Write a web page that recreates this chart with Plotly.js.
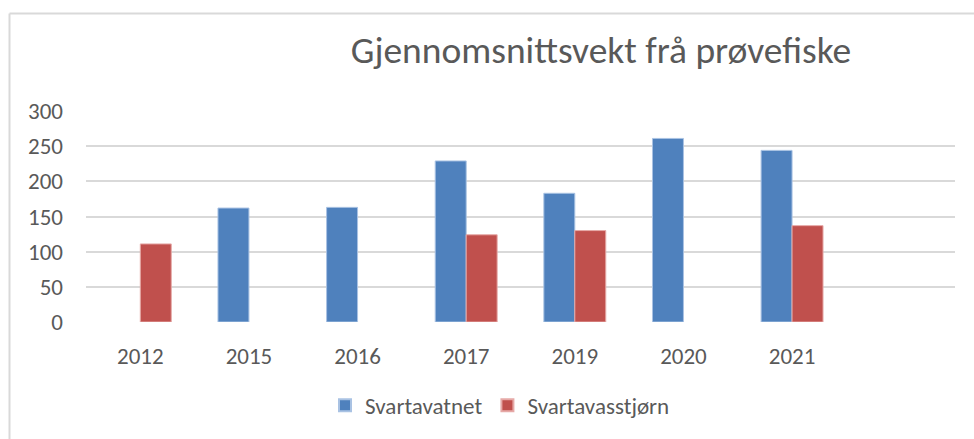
<!DOCTYPE html>
<html>
<head>
<meta charset="utf-8">
<script src="https://cdn.plot.ly/plotly-3.0.1.min.js"></script>
<style>
html,body{margin:0;padding:0;background:#fff;}
#chart{width:974px;height:439px;}
</style>
</head>
<body>
<div id="chart"></div>
<script>
const categories = ["2012", "2015", "2016", "2017", "2019", "2020", "2021"];
const svartavatnet = [null, 162, 163, 229, 183, 261, 244];
const svartavasstjorn = [111, null, null, 124, 130, null, 137];
const seriesNames = ["Svartavatnet", "Svartavasstjørn"];
const yTicks = [0, 50, 100, 150, 200, 250, 300];

const W = 974, H = 439;
const mL = 86, mR = 19, mT = 111, mB = 115;
const pw = W - mL - mR, ph = H - mT - mB;
const px2x = p => (p - mL) / pw;
const py2y = p => (H - mB - p) / ph;

const font = "Calibri, Carlito, 'Open Sans', 'Noto Sans', sans-serif";
const grey = "#595959";

const data = [
  {type: "bar", name: seriesNames[0], x: categories, y: svartavatnet,
   marker: {color: "#4f81bd", line: {color: "#a9c2e3", width: 1}}, hoverinfo: "skip"},
  {type: "bar", name: seriesNames[1], x: categories, y: svartavasstjorn,
   marker: {color: "#c0504d", line: {color: "#e6a9a7", width: 1}}, hoverinfo: "skip"}
];

const layout = {
  width: W, height: H,
  margin: {l: mL, r: mR, t: mT, b: mB, pad: 0},
  paper_bgcolor: "#fff", plot_bgcolor: "#fff",
  barmode: "group", bargap: 0.43, bargroupgap: 0,
  font: {family: font, color: grey, size: 23},
  title: {text: "Gjennomsnittsvekt frå prøvefiske", font: {family: font, size: 37.5, color: grey},
          x: px2x(601), xref: "paper", xanchor: "center", y: 1 - 50 / H, yref: "container", yanchor: "middle"},
  xaxis: {type: "category", range: [-0.5, 7.5], showgrid: false, zeroline: false, showline: false,
          ticks: "", tickfont: {family: font, size: 23, color: grey}, ticklabelstandoff: 18, fixedrange: true},
  yaxis: {range: [0, 300], tickvals: yTicks, showgrid: true, gridcolor: "#d9d9d9", gridwidth: 2,
          zeroline: false, showline: false, ticks: "", tickfont: {family: font, size: 23, color: grey},
          ticklabelstandoff: 22, fixedrange: true},
  showlegend: true,
  legend: {orientation: "h", x: px2x(500), xanchor: "center", y: py2y(408), yanchor: "middle",
           font: {family: font, size: 23, color: grey}, itemwidth: 30, traceorder: "normal",
           itemsizing: "constant", bgcolor: "rgba(0,0,0,0)"},
  shapes: [
    {type: "line", xref: "paper", yref: "paper", x0: px2x(9.5), x1: px2x(9.5), y0: py2y(12.5), y1: py2y(445),
     line: {color: "#d9d9d9", width: 2}},
    {type: "line", xref: "paper", yref: "paper", x0: px2x(9.5), x1: px2x(980), y0: py2y(12.5), y1: py2y(12.5),
     line: {color: "#d9d9d9", width: 2}}
  ]
};

Plotly.newPlot("chart", data, layout, {displayModeBar: false, staticPlot: true});
</script>
</body>
</html>
